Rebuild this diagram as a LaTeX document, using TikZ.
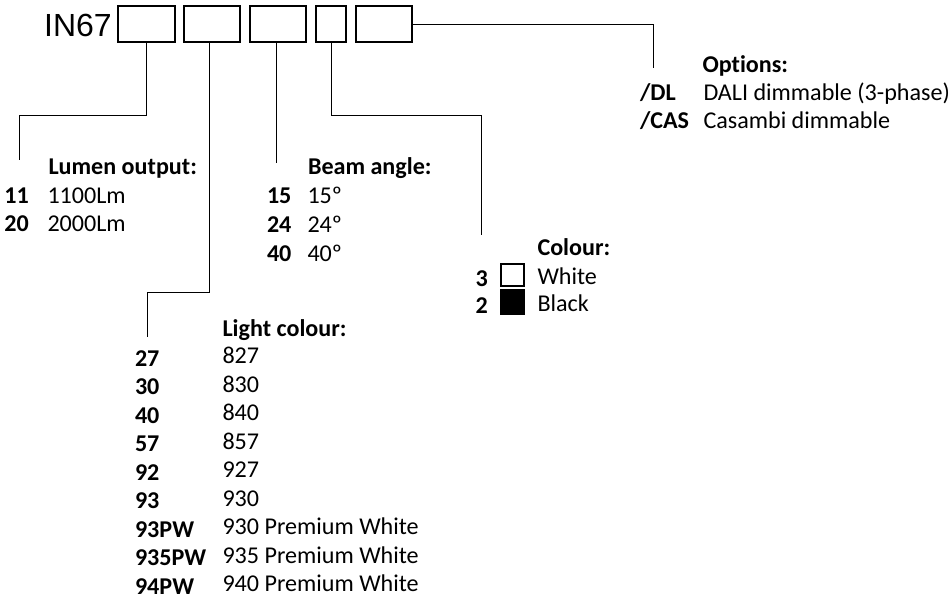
\documentclass[tikz,border=0pt]{standalone}
\usepackage{fontspec}
\setmainfont{Carlito}[Ligatures=NoCommon]
\newfontfamily\arialf{Liberation Sans}
\begin{document}
\begin{tikzpicture}[x=1pt,y=-1pt,
  txt/.style={inner sep=0pt,outer sep=0pt,anchor=base west,font=\fontsize{24.1}{28}\selectfont},
  hdr/.style={inner sep=0pt,outer sep=0pt,anchor=base west,font=\fontsize{24.1}{28}\selectfont\bfseries},
  slot/.style={draw,line width=2pt,inner sep=0pt,minimum height=36.3pt},
  swatch/.style={draw,line width=2pt,inner sep=0pt,minimum width=23pt},
  conn/.style={line width=1pt}]
\useasboundingbox (0,0) rectangle (950,602);

% header
\node[inner sep=0pt,anchor=base west,font=\arialf\fontsize{32}{36}\selectfont] (pre) at (44,37) {IN67};
\node[slot,minimum width=56.7pt] (b1) at (146.65,24.15) {};
\node[slot,minimum width=56pt] (b2) at (211.7,24.15) {};
\node[slot,minimum width=56pt] (b3) at (278.3,24.15) {};
\node[slot,minimum width=29.4pt] (b4) at (331,24.15) {};
\node[slot,minimum width=56pt] (b5) at (384.3,24.15) {};

% connector points
\coordinate (k1) at (19,115.7);
\coordinate (e1) at (19,160);
\coordinate (k2) at (147.3,292.3);
\coordinate (e2) at (147.3,336.7);
\coordinate (e3) at (276.7,163);
\coordinate (k4) at (481.7,115.7);
\coordinate (e4) at (481.7,235);
\coordinate (e5) at (653.3,68);

\draw[conn] (b1.south) |- (k1) -- (e1);
\draw[conn] ([xshift=-2.4pt]b2.south) |- (k2) -- (e2);
\draw[conn] ([xshift=-1.6pt]b3.south) -- (e3);
\draw[conn] (b4.south) |- (k4) -- (e4);
\draw[conn] (b5.east) -| (e5);

% Lumen output
\node[hdr] (lumh) at (48.5,174) {Lumen output:};
\node[hdr] (l11) at (4.5,203) {11};
\node[txt] (l11v) at (47.5,203) {1100Lm};
\node[hdr] (l20) at (4.5,231) {20};
\node[txt] (l20v) at (47.5,231) {2000Lm};

% Beam angle
\node[hdr] (bmh) at (308,174) {Beam angle:};
\node[hdr] (b15) at (267,203) {15};
\node[txt] (b15v) at (307.5,203) {15º};
\node[hdr] (b24) at (267,232) {24};
\node[txt] (b24v) at (307.5,232) {24º};
\node[hdr] (b40) at (267,261) {40};
\node[txt] (b40v) at (307.5,261) {40º};

% Colour
\node[hdr] (colh) at (537.5,255) {Colour:};
\node[hdr] (c3) at (475.5,286) {3};
\node[swatch,minimum height=22pt] (sw) at (512.5,274.7) {};
\node[txt] (c3v) at (537.5,284) {White};
\node[hdr] (c2) at (475.5,313.3) {2};
\node[swatch,fill=black,minimum height=23.7pt] (sb) at (512.5,302.2) {};
\node[txt] (c2v) at (537.5,311.7) {Black};

% Options
\node[hdr] (oph) at (702.5,72) {Options:};
\node[hdr] (odl) at (640,100) {/DL};
\node[txt] (odlv) at (703.5,100) {DALI dimmable (3-phase)};
\node[hdr] (ocas) at (640,128) {/CAS};
\node[txt] (ocasv) at (703.5,128) {Casambi dimmable};

% Light colour
\node[hdr] (lch) at (222.5,336) {Light colour:};
\foreach \c/\v [count=\i from 0] in {27/827,30/830,40/840,57/857,92/927,93/930,93PW/930 Premium White,935PW/935 Premium White,94PW/940 Premium White}{
  \node[hdr] (lc\i) at (135,366+28.5*\i) {\c};
  \node[txt] (lv\i) at (222.5,363.5+28.5*\i) {\v};
}
\end{tikzpicture}
\end{document}
